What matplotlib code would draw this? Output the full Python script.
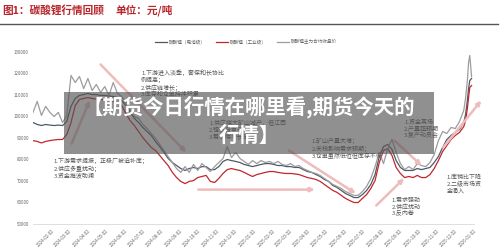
import pandas as pd
import matplotlib
matplotlib.use("Agg")
import matplotlib.pyplot as plt
from matplotlib.patches import Rectangle
from matplotlib.lines import Line2D

plt.rcParams['font.family'] = ['Noto Sans CJK SC', 'DejaVu Sans']

# weekly closes, then daily points for the late-December spike
dates = list(pd.date_range('2024-01-02', '2025-12-16', freq='7D')) + \
    list(pd.to_datetime(['2025-12-19', '2025-12-22', '2025-12-24', '2025-12-26', '2025-12-29']))

battery = [97200, 96300, 95800, 96300, 96000, 95800, 96000, 95800, 97700, 104700,
           108400, 109800, 110200, 110700, 110200, 110200, 109800, 109800, 109500, 109300,
           108800, 107400, 105100, 101900, 99100, 97200, 94900, 93000, 91200, 88400,
           86000, 83300, 80500, 78600, 77200, 75800, 74900, 75800, 76300, 75800,
           76700, 76700, 75300, 75300, 76700, 79100, 80000, 79500, 79100, 78600,
           77700, 77200, 76700, 77200, 77700, 78100, 78100, 77700, 77200, 77200,
           76700, 76700, 76300, 76300, 75300, 74400, 74000, 73000, 72100, 70700,
           69800, 67900, 67000, 65600, 64200, 63300, 62300, 62300, 63700, 65600,
           68400, 73000, 81400, 86000, 87000, 84700, 79500, 76300, 74900, 74900,
           74900, 75800, 75300, 75800, 76300, 78600, 81400, 85600, 89300, 91200,
           92600, 94000, 97200,
           100900, 107400, 113000, 116700, 117700]

industrial = [88800, 88400, 87700, 88400, 88800, 89100, 89300, 89300, 91600, 97200,
              105100, 107900, 108400, 108800, 108400, 108100, 107900, 107700, 107400, 107200,
              106500, 105100, 101400, 98100, 95800, 93000, 90200, 87900, 85600, 84200,
              81900, 79500, 77200, 74000, 71600, 69800, 68800, 69800, 70200, 71600,
              72100, 72600, 69800, 69300, 71200, 73500, 75300, 75800, 75300, 74900,
              74000, 73000, 72100, 73000, 73500, 74000, 74400, 74400, 74000, 73700,
              73500, 73500, 73300, 73000, 72300, 71600, 71200, 70700, 69800, 68400,
              67000, 65600, 64700, 63300, 61900, 60900, 60000, 60000, 61900, 63700,
              66500, 70200, 78600, 84200, 85100, 81900, 76300, 73500, 71600, 72100,
              71600, 72600, 71600, 71600, 73000, 75800, 79500, 83700, 86500, 89300,
              91200, 92600, 95300,
              98100, 103700, 108800, 113500, 114400]

futures = [101900, 107000, 100500, 104700, 101900, 100000, 101900, 97200, 100500, 119100,
           115800, 118600, 113000, 117700, 112100, 114900, 111200, 113900, 109800, 115800,
           110700, 109300, 105600, 102800, 100000, 99100, 96300, 94400, 92100, 89800,
           87000, 84200, 81400, 78600, 75800, 74000, 76700, 74000, 77700, 74900,
           78100, 76300, 74400, 76700, 78600, 80500, 86000, 80900, 83300, 80500,
           79100, 77700, 79500, 78100, 79500, 78600, 79100, 78100, 79100, 77700,
           77200, 78100, 76700, 77200, 75800, 74900, 74000, 73500, 72600, 71200,
           69800, 68400, 67500, 66500, 65100, 64200, 63300, 63300, 65100, 67500,
           71200, 76700, 83300, 78100, 85100, 89300, 83300, 78100, 75300, 76700,
           75300, 78100, 77200, 76700, 78600, 82300, 88800, 93000, 92100, 94900,
           94400, 97700, 102800,
           108400, 116700, 125100, 128400, 118600]

yticks = [50000, 60000, 70000, 80000, 90000, 100000, 110000, 120000, 130000]
xticks = pd.date_range('2024-01-02', periods=24, freq='MS') + pd.Timedelta(days=1)

c_batt = '#4f5966'
c_ind = '#c0272d'
c_fut = '#9c9c9c'
c_arrow = '#efbcbc'
c_note = '#555555'

fig = plt.figure(figsize=(5, 2.48), dpi=100)
fig.patch.set_facecolor('white')

# header
fig.text(0.004, 1 - 10 / 248, '图1：碳酸锂行情回顾', color='#b8272c', fontsize=7.7,
         fontweight='bold', va='center')
fig.text(116 / 500, 1 - 10 / 248, '单位：元/吨', color='#b8272c', fontsize=7.7,
         fontweight='bold', va='center')
fig.add_artist(Line2D([0, 0.996], [1 - 24 / 248] * 2, color='#555555', lw=1.0))

ax = fig.add_axes([33 / 500, 1 - 224 / 248, 441 / 500, 172 / 248])
ax.plot(dates, battery, color=c_batt, lw=0.9, label='碳酸锂（电池级）')
ax.plot(dates, industrial, color=c_ind, lw=0.9, label='碳酸锂（工业级）')
ax.plot(dates, futures, color=c_fut, lw=0.9, label='碳酸锂主力合约收盘价')

ax.set_xlim(pd.Timestamp('2024-01-02'), pd.Timestamp('2025-12-30'))
ax.set_ylim(50000, 130000)
ax.set_yticks(yticks)
ax.set_yticklabels([str(v) for v in yticks], fontsize=3.2, color='#666666')
ax.set_xticks(xticks)
ax.set_xticklabels([d.strftime('%Y-%m-%d') for d in xticks], fontsize=3.2,
                   color='#666666', rotation=45, ha='right', rotation_mode='anchor')
ax.tick_params(axis='both', length=0, pad=3)
for side in ['top', 'right', 'left']:
    ax.spines[side].set_visible(False)
ax.spines['bottom'].set_color('#d9d9d9')
ax.spines['bottom'].set_linewidth(0.6)

fig.legend(loc='center', bbox_to_anchor=(246 / 500, 1 - 42 / 248), ncol=3,
           fontsize=3.3, frameon=False, handlelength=2.6, columnspacing=2.2,
           handletextpad=0.4, labelcolor='#666666')

# trend arrows
arrows = [
    ('2024-03-06', 87400, '2024-04-05', 107400),
    ('2024-04-23', 124200, '2024-09-12', 83300),
    ('2024-10-02', 66000, '2025-04-13', 66000),
    ('2025-03-01', 84200, '2025-06-20', 64200),
    ('2025-07-24', 58600, '2025-09-08', 71200),
    ('2025-08-23', 88800, '2025-10-07', 77200),
    ('2025-11-12', 85600, '2026-01-14', 107400),
]
for x0, y0, x1, y1 in arrows:
    ax.annotate('', xy=(pd.Timestamp(x1), y1), xytext=(pd.Timestamp(x0), y0),
                annotation_clip=False,
                arrowprops=dict(arrowstyle='-|>', color=c_arrow, lw=1.8,
                                mutation_scale=6, shrinkA=0, shrinkB=0))

notes = [
    ('2024-02-05', 80900, '1.下游需求提振，正极厂被迫补库；\n2.供应多重扰动；\n3.资金推波助澜'),
    ('2024-06-29', 121900, '1.下游进入淡季，套保和长协比\n例提高；\n2.供应链增长；\n3.库存和仓单持续积累'),
    ('2024-10-20', 98600, '1.供应端大矿山减产，但江西\n2.锂云母复产；\n3.需求端增长放缓'),
    ('2025-04-08', 90200, '1.矿山产量大增；\n2.关税影响需求预期；\n3.仓单虽然低位但库存不低'),
    ('2025-09-08', 98600, '1.资金离场\n2.产量超预期\n3.复产动员会'),
    ('2025-08-18', 62300, '1.需求强劲\n2.供应扰动\n3.反内卷'),
    ('2025-11-18', 73000, '1.库销比下降\n2.二级市场资\n金涌入'),
]
for x, y, s in notes:
    ax.text(pd.Timestamp(x), y, s, fontsize=4.3, color=c_note, va='top', ha='left',
            linespacing=1.15, clip_on=False)

# grey caption banner across the middle
fig.add_artist(Rectangle((64 / 500, 1 - 154 / 248), 370 / 500, 62 / 248,
                         transform=fig.transFigure, facecolor='#555555',
                         alpha=0.65, edgecolor='none', zorder=10))
fig.text(249 / 500, 1 - 107 / 248, '【期货今日行情在哪里看,期货今天的', color='white',
         fontsize=14.7, fontweight='bold', ha='center', va='center', zorder=11)
fig.text(249 / 500, 1 - 135 / 248, '行情】', color='white',
         fontsize=14.7, fontweight='bold', ha='center', va='center', zorder=11)

fig.savefig('out.png', dpi=100)
